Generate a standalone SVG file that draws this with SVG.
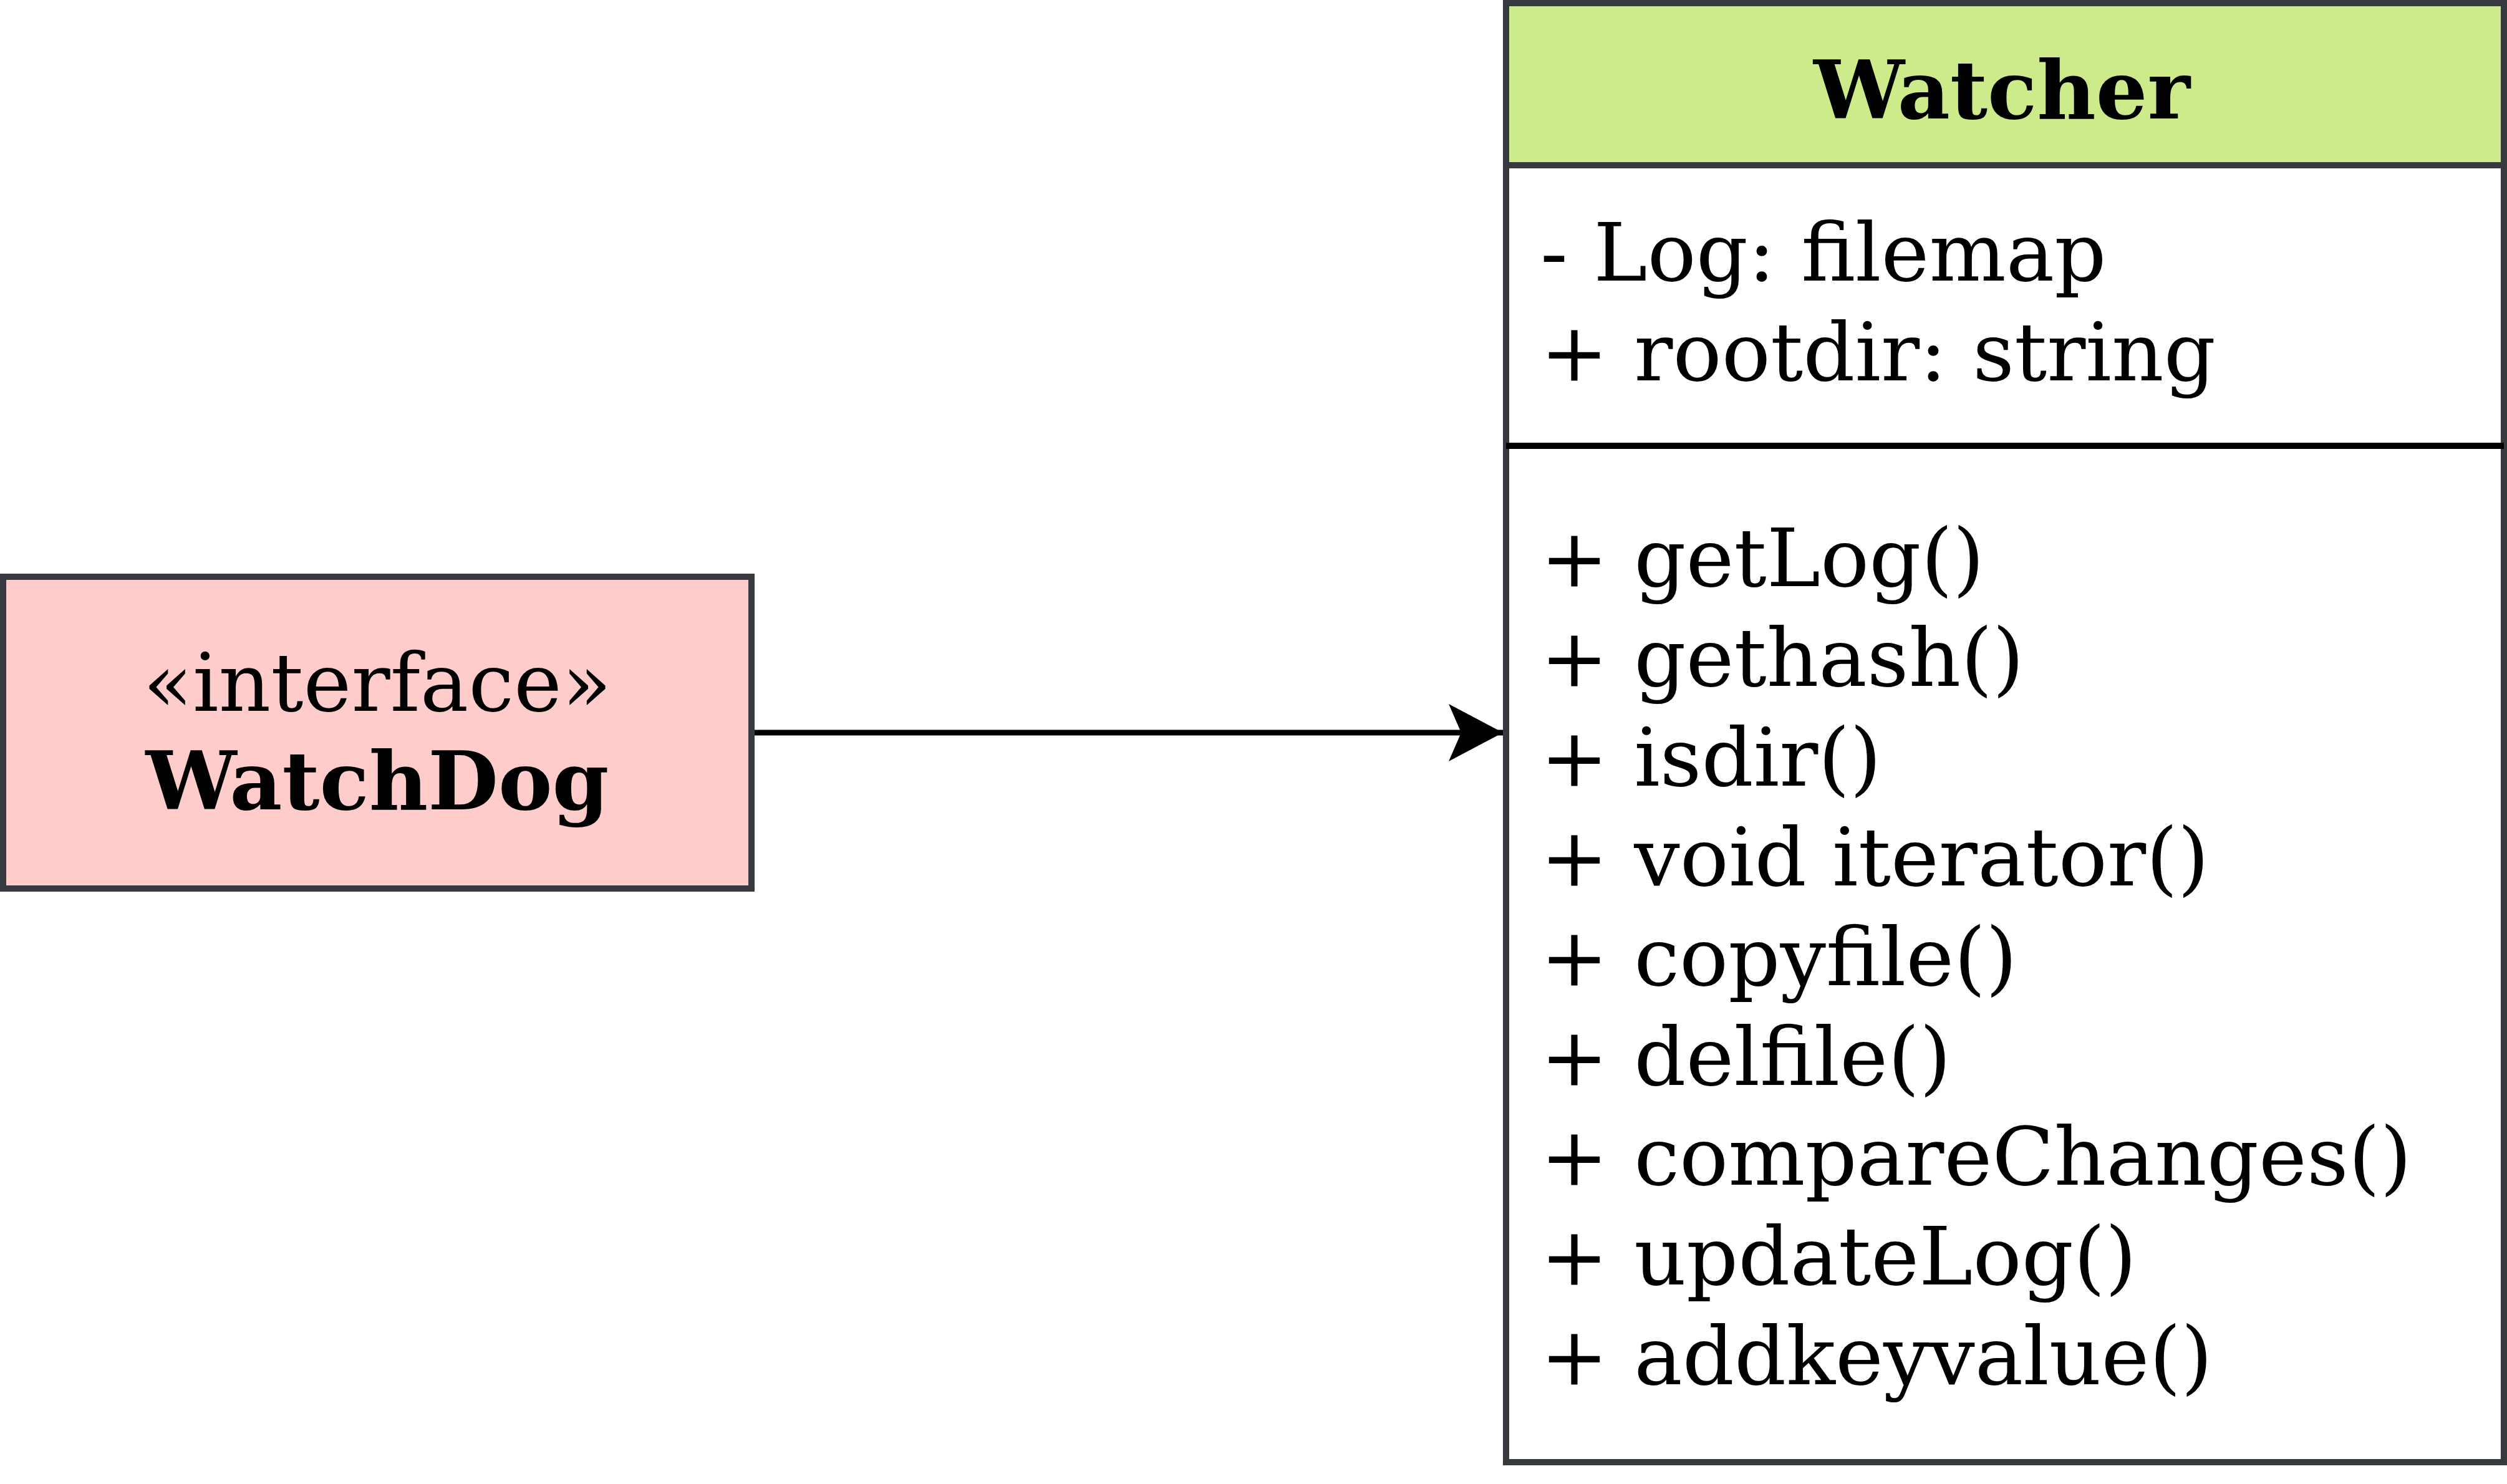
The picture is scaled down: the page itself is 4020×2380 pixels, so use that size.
<svg xmlns="http://www.w3.org/2000/svg" width="4020" height="2380" viewBox="0 0 4020 2380">
<style>
.box{stroke:#36393d;stroke-width:10}
.t{font-family:"DejaVu Serif","Liberation Serif",serif;font-size:130px;fill:#000}
.b{font-weight:bold}
.m{text-anchor:middle}
</style>
<defs>
<marker id="arr" markerUnits="userSpaceOnUse" markerWidth="100" markerHeight="100" viewBox="0 0 100 100" refX="87" refY="46" orient="auto">
<path d="M87,46 L0,0 L20,46 L0,92 Z" fill="#000"/>
</marker>
</defs>
<rect width="4020" height="2380" fill="#fff"/>
<g id="connectors">
<path d="M1205,1175 H2410" stroke="#000" stroke-width="9" fill="none" marker-end="url(#arr)"/>
</g>
<g id="watchdog">
<rect class="box" x="5" y="925" width="1200" height="500" fill="#ffcccc"/>
<text class="t m" x="605" y="1140">«interface»</text>
<text class="t m b" x="605" y="1298">WatchDog</text>
</g>
<g id="watcher">
<rect class="box" x="2415" y="5" width="1600" height="2340" fill="#ffffff"/>
<rect class="box" x="2415" y="5" width="1600" height="260" fill="#cdeb8b"/>
<line x1="2415" y1="715" x2="4015" y2="715" stroke="#000" stroke-width="10"/>
<text class="t m b" x="3210" y="190">Watcher</text>
<text class="t" x="2470" y="450">- Log: filemap</text>
<text class="t" x="2470" y="610">+ rootdir: string</text>
<text class="t" x="2470" y="940">+ getLog()</text>
<text class="t" x="2470" y="1100">+ gethash()</text>
<text class="t" x="2470" y="1260">+ isdir()</text>
<text class="t" x="2470" y="1420">+ void iterator()</text>
<text class="t" x="2470" y="1580">+ copyfile()</text>
<text class="t" x="2470" y="1740">+ delfile()</text>
<text class="t" x="2470" y="1900">+ compareChanges()</text>
<text class="t" x="2470" y="2060">+ updateLog()</text>
<text class="t" x="2470" y="2220">+ addkeyvalue()</text>
</g>
</svg>
